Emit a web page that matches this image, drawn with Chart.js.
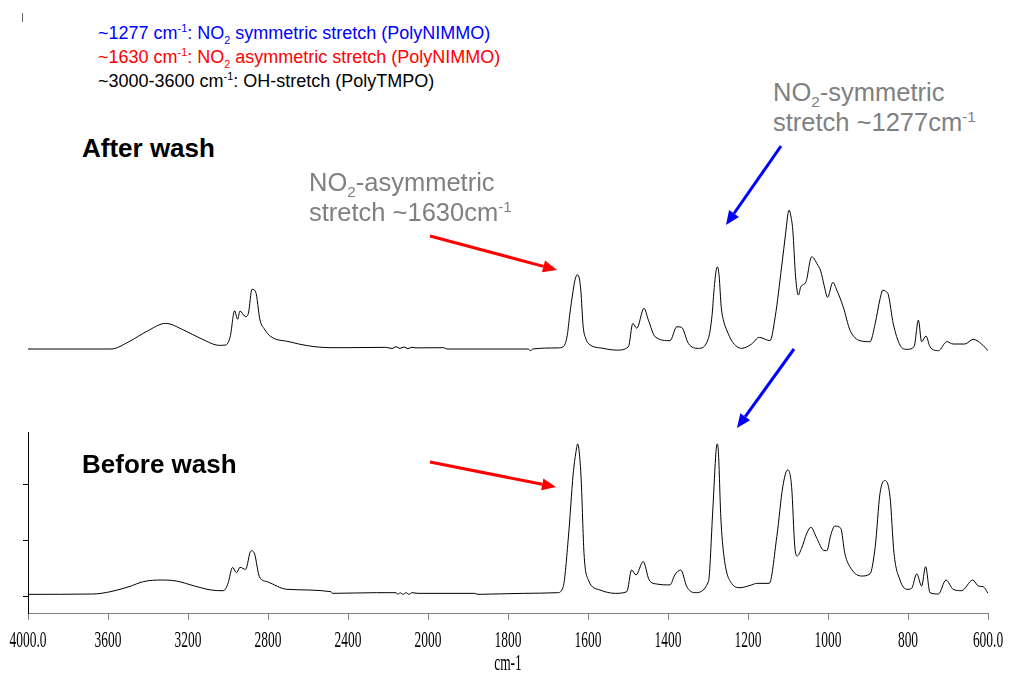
<!DOCTYPE html>
<html>
<head>
<meta charset="utf-8">
<title>FTIR PolyNIMMO / PolyTMPO</title>
<script src="https://cdn.jsdelivr.net/npm/chart.js@4.4.1/dist/chart.umd.min.js"></script>
<style>
    html, body { margin: 0; padding: 0; background: #fff; }
    body { width: 1010px; height: 673px; position: relative; overflow: hidden;
           font-family: "Liberation Sans", Arial, sans-serif; }
    canvas { position: absolute; left: 0; }
    #cAfter { top: 200px; }
    #cBefore { top: 420px; }
    .txt { position: absolute; white-space: nowrap; }
    .txt sup, .txt sub { font-size: 0.6em; line-height: 0; }
    .leyenda { left: 98px; top: 21px; font-size: 18px; line-height: 24px; }
    .gris { color: #808080; font-size: 25.5px; line-height: 30px; }
    .titulo { font-weight: bold; font-size: 26px; line-height: 28px; left: 82px; }
    #marca { position: absolute; left: 22px; top: 13px; width: 1px; height: 9px; background: #666; }
    svg { position: absolute; left: 0; top: 0; }
</style>
</head>
<body>
<div id="marca"></div>
<canvas id="cAfter" width="1010" height="170"></canvas>
<canvas id="cBefore" width="1010" height="253"></canvas>

<div class="txt leyenda">
    <div style="color:#0000ff">~1277 cm<sup>-1</sup>: NO<sub>2</sub> symmetric stretch (PolyNIMMO)</div>
    <div style="color:#ff0000">~1630 cm<sup>-1</sup>: NO<sub>2</sub> asymmetric stretch (PolyNIMMO)</div>
    <div style="color:#000">~3000-3600 cm<sup>-1</sup>: OH-stretch (PolyTMPO)</div>
</div>
<div class="txt titulo" style="top:134px">After wash</div>
<div class="txt titulo" style="top:450px">Before wash</div>
<div class="txt gris" style="left:309px; top:167px">NO<sub>2</sub>-asymmetric<br>stretch ~1630cm<sup>-1</sup></div>
<div class="txt gris" style="left:773px; top:77px">NO<sub>2</sub>-symmetric<br>stretch ~1277cm<sup>-1</sup></div>
<svg id="flechas" width="1010" height="673"></svg>

<script>
// Colores
const COLORES = {
    linea: '#000000',
    ejeX: '#808080',
    ejeY: '#000000',
    rojo: '#ff0000',
    azul: '#0000ff'
};

// Etiquetas del eje x (cm-1)
const ticksX = [4000, 3600, 3200, 2800, 2400, 2000, 1800, 1600, 1400, 1200, 1000, 800, 600];
const ticksY = [0, 0.5, 1.0];

// Espectro despues del lavado
const afterWn = [4000, 3585, 3495, 3403, 3312, 3222, 3131, 3043, 3012, 2989, 2967, 2952, 2940, 2912, 2898,
    2880, 2862, 2840, 2818, 2785, 2695, 2603, 2485, 2400, 2212, 2180, 2160, 2140, 2120, 2100, 2080, 2060,
    1961, 1952, 1750, 1743, 1738, 1675, 1662, 1652, 1646, 1637, 1632, 1627, 1622, 1618, 1612, 1605, 1599,
    1562, 1528, 1499, 1488, 1478, 1460, 1449, 1432, 1395, 1378, 1366, 1349, 1324, 1299, 1290, 1285, 1280,
    1276, 1272, 1267, 1260, 1253, 1240, 1216, 1191, 1172, 1145, 1132, 1116, 1105, 1100, 1097, 1093, 1088,
    1081, 1074, 1068, 1055, 1041, 1036, 1028, 1018, 1010, 1001, 988, 978, 962, 945, 920, 895, 882, 870,
    863, 856, 849, 837, 820, 803, 785, 774, 766, 755, 745, 724, 703, 687, 658, 637, 616, 600];
const afterAbs = [0, 0, 0.066, 0.162, 0.231, 0.171, 0.09, 0.033, 0.036, 0.111, 0.345, 0.268, 0.342, 0.291, 0.322,
    0.538, 0.516, 0.261, 0.18, 0.111, 0.066, 0.03, 0.012, 0.012, 0.015, 0.005, 0.02, 0.006, 0.018, 0.004, 0.016, 0.01,
    0.012, 0, 0, -0.015, 0, 0.01, 0.02, 0.12, 0.3, 0.53, 0.63, 0.667, 0.64, 0.53, 0.2, 0.09, 0.05,
    0.006, -0.01, 0.02, 0.23, 0.187, 0.367, 0.26, 0.11, 0.075, 0.2, 0.195, 0.05, 0.006, 0.096, 0.3, 0.53, 0.7,
    0.74, 0.65, 0.38, 0.24, 0.17, 0.07, 0.006, 0.045, 0.105, 0.075, 0.29, 0.74, 1.07, 1.22, 1.25, 1.2, 1.07,
    0.65, 0.486, 0.56, 0.606, 0.83, 0.82, 0.77, 0.7, 0.577, 0.466, 0.6, 0.53, 0.38, 0.17, 0.075, 0.066, 0.23, 0.45,
    0.53, 0.52, 0.486, 0.23, 0.036, -0.003, 0.02, 0.26, 0.066, 0.117, 0.02, -0.015, 0.066, 0.045, 0.045, 0.087, 0.045, -0.015];

// Espectro antes del lavado
const beforeWn = [4000, 3677, 3585, 3495, 3422, 3331, 3258, 3167, 3085, 3022, 3000, 2977, 2958, 2940, 2912,
    2885, 2867, 2843, 2804, 2704, 2485, 2477, 2258, 2160, 2150, 2140, 2125, 2110, 2095, 2080, 2050, 1884,
    1875, 1761, 1676, 1662, 1649, 1637, 1630, 1626, 1622, 1617, 1610, 1599, 1570, 1532, 1503, 1491, 1480,
    1462, 1447, 1428, 1395, 1383, 1368, 1353, 1333, 1299, 1288, 1280, 1277, 1274, 1268, 1260, 1241, 1220,
    1191, 1178, 1147, 1128, 1113, 1101, 1091, 1083, 1077, 1066, 1053, 1043, 1028, 1012, 1003, 993, 983,
    968, 958, 941, 916, 895, 882, 870, 858, 845, 835, 820, 803, 791, 778, 766, 756, 745, 724, 705, 687,
    666, 638, 624, 612, 600];
const beforeAbs = [0.015, 0.018, 0.04, 0.084, 0.13, 0.144, 0.135, 0.09, 0.054, 0.048, 0.114, 0.258, 0.21, 0.258, 0.24,
    0.408, 0.378, 0.174, 0.129, 0.06, 0.039, 0.024, 0.03, 0.03, 0.015, 0.03, 0.015, 0.03, 0.015, 0.03, 0.024, 0.024,
    0.015, 0.024, 0.03, 0.084, 0.53, 1.1, 1.3, 1.37, 1.3, 1.045, 0.385, 0.144, 0.054, 0.024, 0.039, 0.234, 0.19,
    0.31, 0.144, 0.108, 0.1, 0.19, 0.234, 0.084, 0.03, 0.129, 0.775, 1.3, 1.37, 1.3, 0.714, 0.354, 0.114, 0.075,
    0.1, 0.114, 0.114, 0.534, 0.985, 1.135, 0.985, 0.444, 0.36, 0.43, 0.565, 0.619, 0.52, 0.414, 0.408, 0.55, 0.63,
    0.61, 0.385, 0.24, 0.18, 0.2, 0.444, 0.925, 1.04, 0.895, 0.385, 0.144, 0.06, 0.069, 0.2, 0.09, 0.264, 0.03, 0.018, 0.144, 0.06,
    0.048, 0.144, 0.09, 0.084, 0.024];

/**
 * Eje x con cambio de escala en 2000 cm-1 (como en el espectrometro)
 */
function aPosicion(w) {
    return w >= 2000 ? (4000 - w) / 2 : 1000 + (2000 - w);
}

function etiquetaX(w) {
    return (w === 4000 || w === 600) ? w.toFixed(1) : String(w);
}

function serie(wn, abs) {
    return wn.map((w, i) => ({ x: aPosicion(w), y: abs[i] }));
}

function datasetEspectro(wn, abs) {
    return {
        data: serie(wn, abs),
        borderColor: COLORES.linea,
        borderWidth: 1,
        pointRadius: 0,
        cubicInterpolationMode: 'monotone',
        fill: false
    };
}

// Etiquetas del eje x en fuente condensada
const etiquetasCondensadas = {
    id: 'etiquetasCondensadas',
    afterDraw(chart) {
        const ctx = chart.ctx;
        const escala = chart.scales.x;
        ctx.save();
        ctx.fillStyle = '#000';
        ctx.font = '24px "Liberation Serif", "Times New Roman", serif';
        ctx.textAlign = 'center';
        ctx.textBaseline = 'middle';
        ticksX.forEach(w => {
            const px = escala.getPixelForValue(aPosicion(w));
            ctx.save();
            ctx.translate(px, chart.chartArea.bottom + 28);
            ctx.scale(0.56, 1);
            ctx.fillText(etiquetaX(w), 0, 0);
            ctx.restore();
        });
        ctx.translate((chart.chartArea.left + chart.chartArea.right) / 2, chart.chartArea.bottom + 51);
        ctx.scale(0.56, 1);
        ctx.fillText('cm-1', 0, 0);
        ctx.restore();
    }
};

const CONFIG_BASE = {
    responsive: false,
    animation: false,
    plugins: { legend: { display: false }, tooltip: { enabled: false } }
};

// Grafica superior: despues del lavado (sin ejes)
new Chart(document.getElementById('cAfter'), {
    type: 'line',
    data: { datasets: [datasetEspectro(afterWn, afterAbs)] },
    options: {
        ...CONFIG_BASE,
        layout: { padding: { left: 28, right: 22, top: 0, bottom: 0 } },
        scales: {
            x: { type: 'linear', min: 0, max: 2400, display: false },
            y: { min: -0.189, max: 1.342, display: false }
        }
    }
});

// Grafica inferior: antes del lavado (con ejes)
new Chart(document.getElementById('cBefore'), {
    type: 'line',
    data: { datasets: [datasetEspectro(beforeWn, beforeAbs)] },
    options: {
        ...CONFIG_BASE,
        layout: { padding: { left: 0, right: 22, top: 12, bottom: 0 } },
        scales: {
            x: {
                type: 'linear',
                min: 0,
                max: 2400,
                afterBuildTicks: s => { s.ticks = ticksX.map(w => ({ value: aPosicion(w) })); },
                afterFit: s => { s.height = 60; },
                ticks: { display: false },
                grid: { drawOnChartArea: false, drawTicks: true, tickLength: 7, color: COLORES.ejeX },
                border: { display: true, color: COLORES.ejeX, width: 1 }
            },
            y: {
                min: -0.153,
                max: 1.477,
                afterBuildTicks: s => { s.ticks = ticksY.map(v => ({ value: v })); },
                afterFit: s => { s.width = 28; },
                ticks: { display: false },
                grid: { drawOnChartArea: false, drawTicks: true, tickLength: 5, color: COLORES.ejeY },
                border: { display: true, color: COLORES.ejeY, width: 1 }
            }
        }
    },
    plugins: [etiquetasCondensadas]
});

/**
 * Flechas de anotacion
 */
function flecha(svg, x1, y1, x2, y2, color) {
    const dx = x2 - x1, dy = y2 - y1;
    const len = Math.hypot(dx, dy);
    const ux = dx / len, uy = dy / len;
    const largo = 14, ancho = 6;
    const bx = x2 - ux * largo, by = y2 - uy * largo;
    const ns = 'http://www.w3.org/2000/svg';
    const linea = document.createElementNS(ns, 'line');
    linea.setAttribute('x1', x1); linea.setAttribute('y1', y1);
    linea.setAttribute('x2', bx); linea.setAttribute('y2', by);
    linea.setAttribute('stroke', color); linea.setAttribute('stroke-width', 3);
    svg.appendChild(linea);
    const punta = document.createElementNS(ns, 'polygon');
    punta.setAttribute('points', [
        x2 + ',' + y2,
        (bx - uy * ancho) + ',' + (by + ux * ancho),
        (bx + uy * ancho) + ',' + (by - ux * ancho)
    ].join(' '));
    punta.setAttribute('fill', color);
    svg.appendChild(punta);
}

const svg = document.getElementById('flechas');
flecha(svg, 430, 236, 557, 270, COLORES.rojo);
flecha(svg, 430, 462, 556, 487, COLORES.rojo);
flecha(svg, 781, 146, 726, 225, COLORES.azul);
flecha(svg, 794, 349, 737, 428, COLORES.azul);
</script>
</body>
</html>
